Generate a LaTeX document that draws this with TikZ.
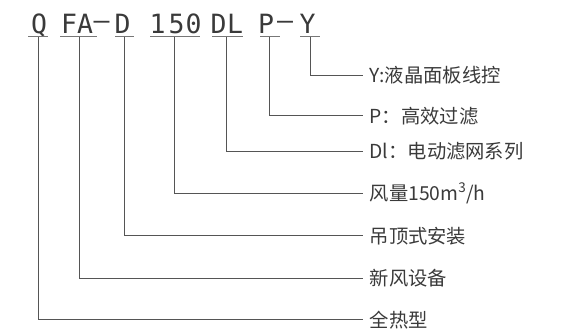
\documentclass[tikz,border=0pt]{standalone}
\usepackage{fontspec}
\newfontfamily\cjk{Noto Sans CJK SC}
\newfontfamily\codefont{DejaVu Sans Mono}
\definecolor{txt}{HTML}{3A3A3A}
\definecolor{ln}{HTML}{555555}
\newcommand{\widehyph}{\raisebox{3.5pt}{–}}
\begin{document}
\begin{tikzpicture}[x=1pt,y=-1pt,
  code/.style={anchor=base,inner sep=0pt,text=txt,font=\codefont\fontsize{26.5}{26.5}\selectfont},
  lbl/.style={anchor=west,inner xsep=6.5pt,inner ysep=0pt,text=txt,font=\cjk\fontsize{19.3}{21}\selectfont},
  uline/.style={draw=ln!80,line width=0.9pt},
  conn/.style={draw=ln,line width=0.9pt}]
\useasboundingbox (0,0) rectangle (572,333);
% code characters
\node[code] (cQ) at (39,33) {Q};
\node[code] (cF) at (69,33) {F};
\node[code] (cA) at (85,33) {A};
\node[code] (cH1) at (101.5,33) {\widehyph};
\node[code] (cD) at (122.5,33) {D};
\node[code] (c1) at (157.5,33) {1};
\node[code] (c5) at (176.5,33) {5};
\node[code] (c0) at (193.5,33) {0};
\node[code] (cD2) at (218.5,33) {D};
\node[code] (cL) at (235,33) {L};
\node[code] (cP) at (266,33) {P};
\node[code] (cH2) at (285,33) {\widehyph};
\node[code] (cY) at (307.5,33) {Y};
% underlines
\draw[uline] (28,36.5) -- (48,36.5);
\draw[uline] (60,36.5) -- (97,36.5);
\draw[uline] (115,36.5) -- (134,36.5);
\draw[uline] (150,36.5) -- (200,36.5);
\draw[uline] (212,36.5) -- (243,36.5);
\draw[uline] (260,36.5) -- (280,36.5);
\draw[uline] (300,36.5) -- (320,36.5);
% stub coordinates
\coordinate (vQ) at (38,36.5);
\coordinate (vFA) at (79,36.5);
\coordinate (vD) at (124,36.5);
\coordinate (v150) at (174,36.5);
\coordinate (vDL) at (226,36.5);
\coordinate (vP) at (269,36.5);
\coordinate (vY) at (310,36.5);
% labels
\node[lbl] (lY) at (363,75) {Y:液晶面板线控};
\node[lbl] (lP) at (363,115.7) {P：高效过滤};
\node[lbl] (lDL) at (363,151.5) {Dl：电动滤网系列};
\node[lbl] (l150) at (363,193.3) {风量150m\textsuperscript{3}/h};
\node[lbl] (lD) at (363,235.7) {吊顶式安装};
\node[lbl] (lFA) at (363,278.3) {新风设备};
\node[lbl] (lQ) at (363,319.7) {全热型};
% connectors
\draw[conn] (vY) |- (lY.west);
\draw[conn] (vP) |- (lP.west);
\draw[conn] (vDL) |- (lDL.west);
\draw[conn] (v150) |- (l150.west);
\draw[conn] (vD) |- (lD.west);
\draw[conn] (vFA) |- (lFA.west);
\draw[conn] (vQ) |- (lQ.west);
\end{tikzpicture}
\end{document}
